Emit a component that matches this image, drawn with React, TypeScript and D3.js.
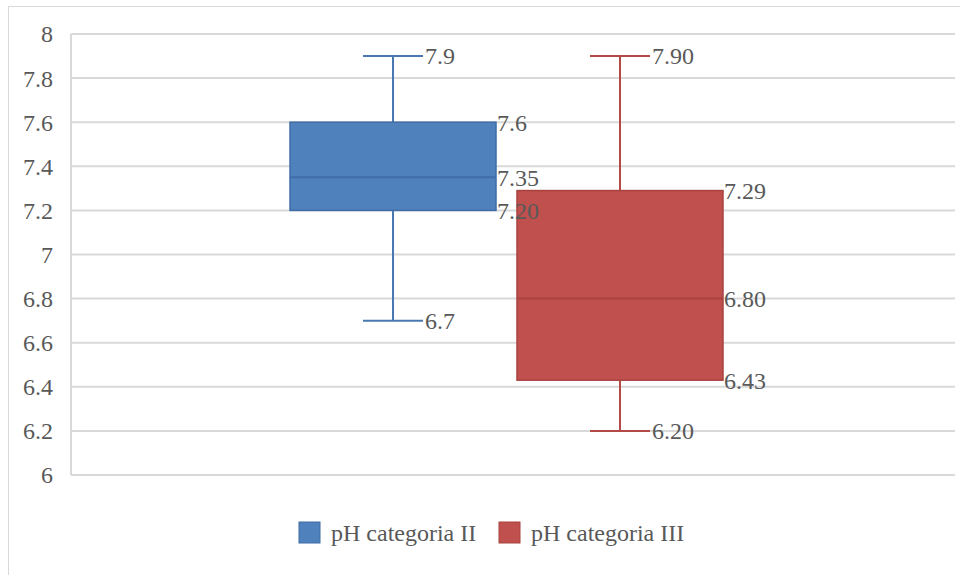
import React from "react";
import * as d3 from "d3";

const seriesNames = ["pH categoria II", "pH categoria III"];
const minValues = [6.7, 6.2];
const q1Values = [7.2, 6.43];
const medianValues = [7.35, 6.8];
const q3Values = [7.6, 7.29];
const maxValues = [7.9, 7.9];
const maxLabels = ["7.9", "7.90"];
const q3Labels = ["7.6", "7.29"];
const medianLabels = ["7.35", "6.80"];
const q1Labels = ["7.20", "6.43"];
const minLabels = ["6.7", "6.20"];
const yTicks = [6, 6.2, 6.4, 6.6, 6.8, 7, 7.2, 7.4, 7.6, 7.8, 8];

const fills = ["#4F81BD", "#C0504D"];
const strokes = ["#3F6DA6", "#A8423F"];
const whiskerColors = ["#4A78B0", "#B34A47"];
const FONT = "Liberation Serif, Tinos, DejaVu Serif, serif";
const TEXT = "#595959";

export default function App() {
  const W = 960, H = 575;
  const left = 71, right = 955, top = 34, bottom = 475;
  const y = d3.scaleLinear().domain([6, 8]).range([bottom, top]);
  const x = d3.scaleBand<string>().domain(seriesNames).range([290, 723]).paddingInner(0.0925).paddingOuter(0);
  const bw = x.bandwidth();
  const capW = 60;
  const fmt = (v: number) => String(+v.toFixed(1));
  const ts = { fontFamily: FONT, fontSize: 24, fill: TEXT } as React.CSSProperties;

  return (
    <svg width={W} height={H} style={{ position: "absolute", left: 0, top: 0, background: "#fff" }}>
      <rect x={8.5} y={6.5} width={W} height={H} fill="#fff" stroke="#D9D9D9" strokeWidth={1} />
      {yTicks.map((t) => (
        <g key={t}>
          <line x1={left} x2={right} y1={y(t)} y2={y(t)} stroke="#D9D9D9" strokeWidth={2} />
          <text x={53} y={y(t)} dy="0.35em" textAnchor="end" style={ts}>
            {fmt(t)}
          </text>
        </g>
      ))}
      <line x1={left} x2={left} y1={top} y2={bottom} stroke="#D9D9D9" strokeWidth={2} />
      {seriesNames.map((s, i) => {
        const x0 = x(s)!;
        const cx = x0 + bw / 2;
        const x1 = x0 + bw;
        return (
          <g key={s}>
            <line x1={cx} x2={cx} y1={y(maxValues[i])} y2={y(q3Values[i])} stroke={whiskerColors[i]} strokeWidth={2} />
            <line x1={cx} x2={cx} y1={y(q1Values[i])} y2={y(minValues[i])} stroke={whiskerColors[i]} strokeWidth={2} />
            <line x1={cx - capW / 2} x2={cx + capW / 2} y1={y(maxValues[i])} y2={y(maxValues[i])} stroke={whiskerColors[i]} strokeWidth={2} />
            <line x1={cx - capW / 2} x2={cx + capW / 2} y1={y(minValues[i])} y2={y(minValues[i])} stroke={whiskerColors[i]} strokeWidth={2} />
            <rect x={x0} y={y(q3Values[i])} width={bw} height={y(q1Values[i]) - y(q3Values[i])} fill={fills[i]} stroke={strokes[i]} strokeWidth={1.5} />
            <line x1={x0} x2={x1} y1={y(medianValues[i])} y2={y(medianValues[i])} stroke={strokes[i]} strokeWidth={2} />
          </g>
        );
      })}
      {seriesNames.map((s, i) => {
        const x0 = x(s)!;
        const cx = x0 + bw / 2;
        const x1 = x0 + bw;
        return (
          <g key={"lab" + s}>
            <text x={cx + capW / 2 + 2} y={y(maxValues[i])} dy="0.35em" style={ts}>{maxLabels[i]}</text>
            <text x={x1 + 1} y={y(q3Values[i])} dy="0.35em" style={ts}>{q3Labels[i]}</text>
            <text x={x1 + 1} y={y(medianValues[i])} dy="0.35em" style={ts}>{medianLabels[i]}</text>
            <text x={x1 + 1} y={y(q1Values[i])} dy="0.35em" style={ts}>{q1Labels[i]}</text>
            <text x={cx + capW / 2 + 2} y={y(minValues[i])} dy="0.35em" style={ts}>{minLabels[i]}</text>
          </g>
        );
      })}
      {seriesNames.map((s, i) => {
        const lx = [299, 499][i];
        return (
          <g key={"lg" + s}>
            <rect x={lx} y={522} width={21} height={21} fill={fills[i]} stroke={strokes[i]} strokeWidth={1} />
            <text x={lx + 32} y={532.5} dy="0.35em" style={ts}>{s}</text>
          </g>
        );
      })}
    </svg>
  );
}
